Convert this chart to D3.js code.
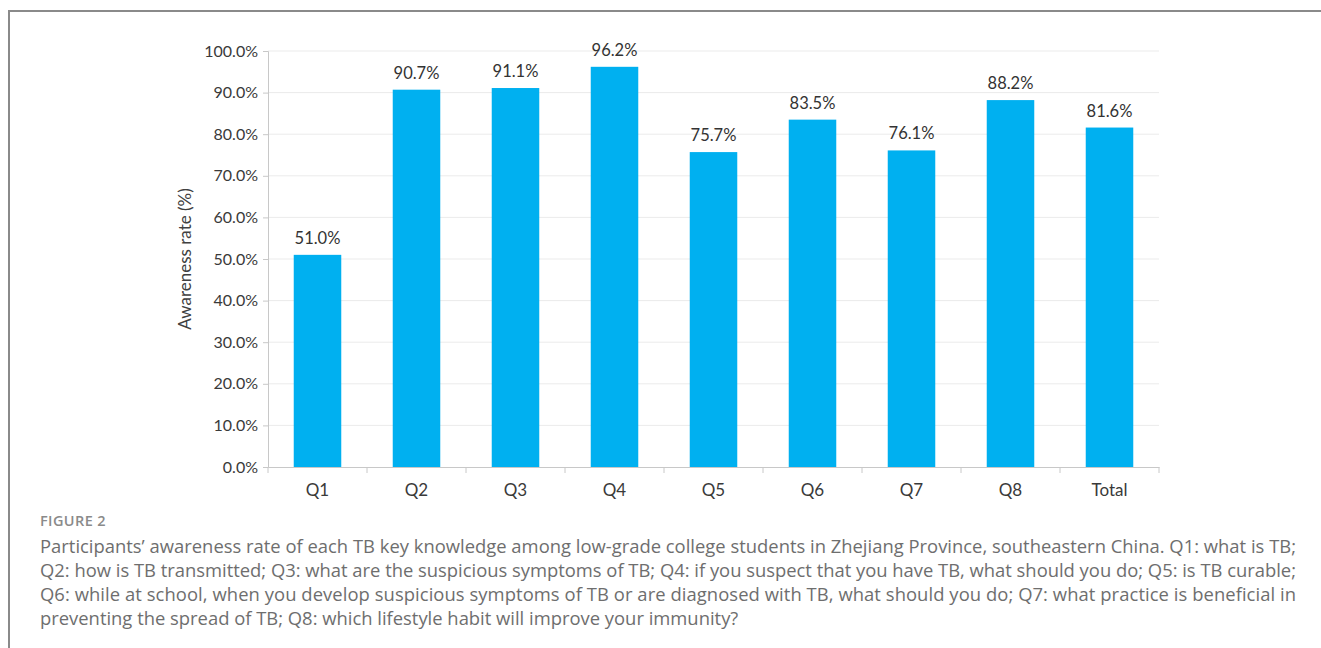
<!DOCTYPE html>
<html lang="en">
<head>
<meta charset="UTF-8">
<title>Figure 2</title>
<script src="https://cdn.jsdelivr.net/npm/d3@7"></script>
<style>
    body { margin: 0; background: #fff; }
    svg { display: block; }
    .tick text { font-family: Lato, "Open Sans", sans-serif; font-size: 16px; fill: #3a3a3a; }
    .caption { font-family: "Open Sans", Lato, sans-serif; fill: #6e6e6e; }
</style>
</head>
<body>
<svg id="chart" width="1321" height="648"></svg>
<script>
// data
const categories = ["Q1", "Q2", "Q3", "Q4", "Q5", "Q6", "Q7", "Q8", "Total"];
const rates = [51.0, 90.7, 91.1, 96.2, 75.7, 83.5, 76.1, 88.2, 81.6];
const yTicks = [0, 10, 20, 30, 40, 50, 60, 70, 80, 90, 100];
const captionLines = [
    "Participants\u2019 awareness rate of each TB key knowledge among low-grade college students in Zhejiang Province, southeastern China. Q1: what is TB;",
    "Q2: how is TB transmitted; Q3: what are the suspicious symptoms of TB; Q4: if you suspect that you have TB, what should you do; Q5: is TB curable;",
    "Q6: while at school, when you develop suspicious symptoms of TB or are diagnosed with TB, what should you do; Q7: what practice is beneficial in",
    "preventing the spread of TB; Q8: which lifestyle habit will improve your immunity?"
];

const svg = d3.select("#chart");

// outer frame (top + left only visible)
svg.append("path")
    .attr("d", "M9,648 V11 H1321")
    .attr("fill", "none")
    .attr("stroke", "#8a8a8a")
    .attr("stroke-width", 2);

const plotL = 268, plotR = 1159, plotT = 51, plotB = 467;

const x = d3.scaleBand().domain(categories).range([plotL, plotR]).paddingInner(0.52).paddingOuter(0.26);
const y = d3.scaleLinear().domain([0, 100]).range([plotB, plotT]);

// gridlines
svg.append("g")
    .selectAll("line")
    .data(yTicks.slice(1))
    .join("line")
    .attr("x1", plotL).attr("x2", plotR)
    .attr("y1", d => y(d)).attr("y2", d => y(d))
    .attr("stroke", "#ebebeb").attr("stroke-width", 1);

// y axis
const yAxis = svg.append("g")
    .attr("transform", `translate(${plotL},0)`)
    .call(d3.axisLeft(y).tickValues(yTicks).tickSize(5).tickPadding(5).tickFormat(d => d.toFixed(1) + "%"));
yAxis.selectAll("line, path").attr("stroke", "#c8c8c8");

// x axis, ticks at band boundaries
const xAxis = svg.append("g")
    .attr("transform", `translate(0,${plotB})`)
    .call(d3.axisBottom(x).tickSize(0).tickPadding(17));
xAxis.select("path").attr("stroke", "#c8c8c8");
xAxis.selectAll(".tick text").style("font-size", "17px");
const step = x.step();
xAxis.selectAll(".bound")
    .data(d3.range(categories.length + 1))
    .join("line")
    .attr("x1", i => plotL + i * step).attr("x2", i => plotL + i * step)
    .attr("y1", 0).attr("y2", 6)
    .attr("stroke", "#c8c8c8");

// bars
svg.append("g")
    .selectAll("rect")
    .data(rates)
    .join("rect")
    .attr("x", (d, i) => x(categories[i]))
    .attr("width", x.bandwidth())
    .attr("y", d => y(d))
    .attr("height", d => plotB - y(d))
    .attr("fill", "#00b0f0");

// value labels
svg.append("g")
    .selectAll("text")
    .data(rates)
    .join("text")
    .attr("x", (d, i) => x(categories[i]) + x.bandwidth() / 2)
    .attr("y", d => y(d) - 11)
    .attr("text-anchor", "middle")
    .style("font-family", "Lato, 'Open Sans', sans-serif")
    .style("font-size", "16.5px")
    .style("fill", "#333")
    .text(d => d.toFixed(1) + "%");

// y label
svg.append("text")
    .attr("transform", `translate(191,${(plotT + plotB) / 2}) rotate(-90)`)
    .attr("text-anchor", "middle")
    .style("font-family", "Lato, 'Open Sans', sans-serif")
    .style("font-size", "17px")
    .style("fill", "#404040")
    .text("Awareness rate (%)");

// caption
svg.append("text")
    .attr("class", "caption")
    .attr("x", 40).attr("y", 526)
    .style("font-size", "14.5px")
    .style("font-weight", "600")
    .style("letter-spacing", "0.4px")
    .style("fill", "#8a8a8a")
    .text("FIGURE 2");

const capText = svg.append("g")
    .selectAll("text")
    .data(captionLines)
    .join("text")
    .attr("class", "caption")
    .attr("x", 40)
    .attr("y", (d, i) => 553 + i * 24)
    .style("font-size", "16px")
    .text(d => d);

// size the caption so the first line fills the frame width
const natural = capText.node().getComputedTextLength();
const capSize = 16 * 1256 / natural;
capText.style("font-size", capSize + "px")
    .each(function(d, i) {
        if (i < 3) d3.select(this).attr("textLength", 1256).attr("lengthAdjust", "spacing");
    });
</script>
</body>
</html>
